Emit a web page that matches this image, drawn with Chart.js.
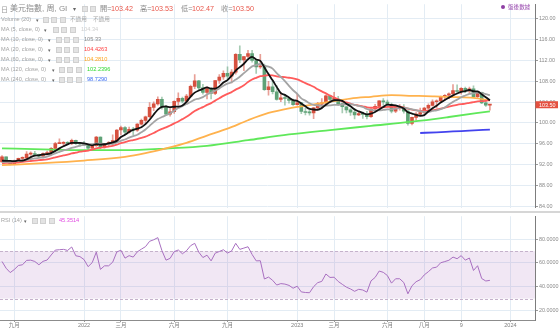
<!DOCTYPE html>
<html lang="zh-Hant">
<head>
<meta charset="utf-8">
<title>美元指數 周線</title>
<script src="https://cdn.jsdelivr.net/npm/chart.js@4.4.1/dist/chart.umd.min.js"></script>
<style>
  html, body { margin: 0; padding: 0; background: #fff; }
  #frame { position: relative; width: 560px; height: 328px; overflow: hidden;
           font-family: "Liberation Sans", Arial, "Noto Sans CJK TC", sans-serif; }
  canvas { position: absolute; left: 0; }
  #priceCanvas { top: 0; }
  #rsiCanvas { top: 212px; }
  #divider { position: absolute; left: 0; top: 211px; width: 560px; height: 1.5px; background: #d6d6d6; }
  .txt { position: absolute; white-space: nowrap; line-height: 1; transform: translateY(-50%); }
  .ico { position: absolute; width: 6px; height: 6px; background: #e3e3e3; border: 0.5px solid #d0d0d0;
         box-sizing: border-box; transform: translateY(-50%); }
  .dot { position: absolute; width: 4px; height: 4px; border-radius: 50%; background: #8e3fa3; }
</style>
</head>
<body>
<div id="frame">
  <canvas id="priceCanvas" width="560" height="212"></canvas>
  <canvas id="rsiCanvas" width="560" height="116"></canvas>
  <div id="divider"></div>
  <div id="overlay"></div>
</div>
<script>
// US Dollar Index, weekly bars; bar 0 is the week of 2021-08-16
const OPEN = [92.52,93.50,92.69,92.13,92.58,93.20,93.32,94.04,94.08,93.96,
  93.64,94.12,94.32,95.12,96.03,96.08,96.15,96.08,96.68,96.03,
  95.97,95.74,95.17,95.64,97.28,95.47,96.04,96.04,96.62,98.66,
  99.13,98.23,98.79,98.63,99.79,100.50,101.19,103.00,103.66,104.56,
  103.05,101.67,102.15,104.15,104.71,104.18,105.14,107.01,108.07,106.73,
  105.85,106.61,105.65,108.16,108.82,109.54,109.00,109.76,113.19,112.12,
  112.75,113.31,111.98,110.75,110.81,106.41,106.93,106.00,104.51,104.82,
  104.70,104.31,103.52,103.89,102.20,102.01,101.93,102.92,103.63,103.86,
  105.21,104.52,104.58,103.72,103.12,102.51,102.09,101.55,101.82,101.66,
  101.22,102.68,103.20,104.23,104.03,103.55,102.26,102.90,102.91,102.27,
  99.91,101.07,101.70,102.02,102.84,103.39,104.08,104.24,105.07,105.32,
  105.58,106.22,106.04,106.65,106.16,106.56,105.06,105.87,103.87,103.42];
const HIGH = [93.73,93.52,92.76,92.88,93.27,93.53,94.50,94.45,94.56,94.05,
  94.30,94.63,95.27,96.27,96.94,96.42,96.45,96.91,96.74,96.31,
  96.46,95.89,95.83,97.44,97.35,96.09,96.43,97.74,98.76,99.42,
  99.29,99.20,99.15,99.90,100.76,101.34,103.93,104.07,105.01,104.99,
  103.38,102.73,104.25,105.79,104.96,105.48,107.27,109.29,108.20,107.43,
  106.93,106.79,108.19,109.27,110.02,110.79,110.26,113.33,114.78,112.75,
  113.92,113.95,112.26,113.15,111.30,107.97,107.99,107.19,105.90,105.24,
  104.86,104.60,105.63,103.95,102.90,102.41,103.00,103.96,104.67,105.36,
  105.36,105.88,105.11,103.89,103.13,102.76,102.80,102.17,102.07,102.22,
  102.75,103.58,104.31,104.70,104.40,103.80,103.02,103.55,103.53,102.38,
  101.12,102.02,102.84,103.02,103.68,104.44,104.44,105.16,105.43,105.78,
  107.35,107.34,106.79,106.89,106.89,107.11,106.00,105.92,104.21,103.53];
const LOW = [92.48,92.59,91.94,92.00,92.33,92.88,93.18,93.80,93.86,93.50,
  93.28,93.87,93.87,95.06,96.02,95.52,95.86,95.86,95.87,95.53,
  95.68,94.63,95.02,95.52,95.14,95.19,95.52,95.64,96.36,97.72,
  97.71,98.03,97.69,98.39,99.59,99.82,101.03,102.35,103.41,102.65,
  101.43,101.30,101.82,103.41,103.86,103.85,104.93,106.60,106.29,105.54,
  104.64,104.64,105.41,107.58,108.36,108.36,107.68,109.36,111.58,110.05,
  112.53,111.68,109.53,110.46,106.27,105.34,105.60,104.39,104.10,103.44,
  103.80,103.39,103.41,101.77,101.53,101.50,100.82,102.64,102.78,103.66,
  104.09,104.32,103.35,101.92,101.92,101.43,100.79,101.42,100.89,100.79,
  101.06,102.43,103.15,103.40,103.28,101.92,101.98,102.48,101.88,99.58,
  99.62,100.55,101.46,101.74,102.56,103.23,102.94,104.01,104.42,104.69,
  105.51,105.85,105.53,105.80,105.70,104.84,104.86,103.71,103.17,102.47];
const CLOSE = [93.50,92.69,92.13,92.58,93.20,93.32,94.04,94.08,93.96,93.64,
  94.12,94.32,95.12,96.03,96.08,96.15,96.08,96.68,96.03,95.97,
  95.74,95.17,95.64,97.28,95.47,96.04,96.04,96.62,98.66,99.13,
  98.23,98.79,98.63,99.79,100.50,101.19,103.00,103.66,104.56,103.05,
  101.67,102.15,104.15,104.71,104.18,105.14,107.01,108.07,106.73,105.85,
  106.61,105.65,108.16,108.82,109.54,109.00,109.76,113.19,112.12,112.75,
  113.31,111.98,110.75,110.81,106.41,106.93,106.00,104.51,104.82,104.70,
  104.31,103.52,103.89,102.20,102.01,101.93,102.92,103.63,103.86,105.21,
  104.52,104.58,103.72,103.12,102.51,102.09,101.55,101.82,101.66,101.22,
  102.68,103.20,104.23,104.03,103.55,102.26,102.90,102.91,102.27,99.91,
  101.07,101.70,102.02,102.84,103.39,104.08,104.24,105.07,105.32,105.58,
  106.22,106.04,106.65,106.16,106.56,105.06,105.87,103.87,103.40,103.50];

// Moving averages of the close, one value per bar
const MA5 = [92.78,92.73,92.72,92.68,92.82,92.78,93.05,93.44,93.72,93.81,
  93.97,94.02,94.23,94.65,95.13,95.54,95.89,96.20,96.20,96.18,
  96.10,95.92,95.71,95.96,95.86,95.92,96.09,96.29,96.57,97.30,
  97.74,98.29,98.69,98.91,99.19,99.78,100.62,101.63,102.58,103.09,
  103.19,103.02,103.12,103.15,103.37,104.07,105.04,105.82,106.23,106.56,
  106.85,106.58,106.60,107.02,107.76,108.23,109.06,110.06,110.72,111.36,
  112.23,112.67,112.18,111.92,110.65,109.38,108.18,106.93,105.73,105.39,
  104.87,104.37,104.25,103.72,103.19,102.71,102.59,102.54,102.87,103.51,
  104.03,104.36,104.38,104.23,103.69,103.20,102.60,102.22,101.93,101.67,
  101.79,102.12,102.60,103.07,103.54,103.45,103.39,103.13,102.78,102.05,
  101.81,101.57,101.39,101.51,102.20,102.81,103.31,103.92,104.42,104.86,
  105.29,105.65,105.96,106.13,106.33,106.09,106.06,105.50,104.95,104.34];
const MA10 = [92.50,92.55,92.57,92.61,92.72,92.78,92.89,93.08,93.20,93.31,
  93.38,93.54,93.84,94.18,94.47,94.75,94.96,95.22,95.43,95.66,
  95.82,95.91,95.96,96.08,96.02,96.01,96.01,96.00,96.26,96.58,
  96.83,97.19,97.49,97.74,98.24,98.76,99.45,100.16,100.75,101.14,
  101.48,101.82,102.37,102.86,103.23,103.63,104.03,104.47,104.69,104.97,
  105.46,105.81,106.21,106.62,107.16,107.54,107.82,108.33,108.87,109.56,
  110.23,110.86,111.12,111.32,111.01,110.80,110.43,109.56,108.83,108.02,
  107.12,106.28,105.59,104.73,104.29,103.79,103.48,103.39,103.30,103.35,
  103.37,103.48,103.46,103.55,103.60,103.62,103.48,103.30,103.08,102.68,
  102.50,102.36,102.41,102.50,102.60,102.62,102.76,102.86,102.93,102.79,
  102.63,102.48,102.26,102.14,102.13,102.31,102.44,102.66,102.96,103.53,
  104.05,104.48,104.94,105.28,105.59,105.69,105.85,105.73,105.54,105.33];
const MA20 = [92.30,92.34,92.37,92.41,92.47,92.54,92.62,92.71,92.80,92.88,
  92.94,93.04,93.21,93.40,93.59,93.77,93.93,94.15,94.31,94.49,
  94.60,94.72,94.90,95.13,95.25,95.38,95.48,95.61,95.84,96.12,
  96.32,96.55,96.72,96.91,97.13,97.38,97.73,98.08,98.51,98.86,
  99.16,99.51,99.93,100.30,100.74,101.19,101.74,102.31,102.72,103.05,
  103.47,103.82,104.29,104.74,105.20,105.59,105.92,106.40,106.78,107.26,
  107.85,108.34,108.67,108.97,109.08,109.17,109.12,108.94,108.85,108.79,
  108.68,108.57,108.36,108.03,107.65,107.30,106.95,106.48,106.06,105.69,
  105.25,104.88,104.52,104.14,103.94,103.70,103.48,103.35,103.19,103.01,
  102.93,102.92,102.93,103.02,103.10,103.12,103.12,103.08,103.00,102.74,
  102.56,102.42,102.34,102.32,102.37,102.46,102.60,102.76,102.94,103.16,
  103.34,103.48,103.60,103.71,103.86,104.00,104.15,104.20,104.25,104.4263];

// Slow averages, sampled at the listed bars
const MA60_BARS = [0, 10, 20, 30, 35, 40, 45, 50, 55, 60, 65, 70, 75, 80, 85, 90, 95, 100, 105, 110, 115, 119];
const MA60 = [91.90, 92.30, 92.80, 93.50, 94.20, 95.12, 96.19, 97.58, 98.91, 100.53, 101.92, 102.82,
  103.42, 104.08, 104.69, 105.03, 105.33, 105.22, 105.11, 104.98, 104.80, 104.2810];
const MA120_BARS = [0, 10, 20, 30, 40, 50, 60, 70, 80, 90, 100, 109, 119];
const MA120 = [95.15, 94.95, 94.80, 94.80, 95.10, 95.60, 96.70, 97.80, 98.65, 99.45, 100.25, 101.15, 102.2396];
const MA240_BARS = [102, 106, 110, 114, 119];
const MA240 = [98.08, 98.22, 98.38, 98.53, 98.7290];

// RSI (14), one value per bar
const RSI = [61.3,55.6,51.9,54.5,57.9,58.5,62.2,62.4,61.3,58.5,
  61.4,62.5,66.8,70.9,71.2,71.5,70.6,73.5,66.1,65.4,
  62.9,56.9,60.3,69.2,54.6,57.6,57.6,60.7,69.3,70.8,
  64.1,66.2,65.0,69.4,71.7,73.8,78.3,79.6,81.4,70.5,
  62.4,63.9,69.6,71.0,67.8,70.4,74.6,76.6,69.1,64.6,
  66.6,61.8,68.3,69.7,71.2,68.4,70.2,76.6,71.5,72.6,
  73.7,67.2,61.8,61.9,46.5,48.1,45.4,41.4,42.6,42.2,
  41.1,38.7,40.4,35.6,35.1,34.9,40.0,43.4,44.5,50.7,
  47.8,48.0,44.4,42.0,39.6,38.1,36.1,37.8,37.2,35.4,
  44.9,47.8,53.2,52.1,49.4,43.0,46.7,46.7,43.5,34.0,
  40.8,44.2,45.9,50.0,52.7,55.8,56.5,60.2,61.2,62.3,
  65.0,63.6,66.2,62.4,64.2,53.7,57.7,46.9,44.8,45.3514];
const RSI_UPPER = 70, RSI_LOWER = 30;

// Axis ticks
const X_TICK_BARS = [3, 20, 29, 42, 55, 72, 81, 94, 103, 112, 124];
const X_TICK_LABELS = ['九月', '2022', '三月', '六月', '九月', '2023', '三月', '六月', '八月', '9', '2024'];
const PRICE_TICKS = [84, 88, 92, 96, 100, 104, 108, 112, 116, 120];
const RSI_TICKS = [20, 40, 60, 80];

// ---- layout / style ----
const FONT = '"Liberation Sans", Arial, "Noto Sans CJK TC", sans-serif';
Chart.defaults.font.family = FONT;
const X_MIN = -0.49, X_MAX = 130.0;
const PRICE_MIN = 83.74, PRICE_MAX = 122.78;
const RSI_MIN = 11.89, RSI_MAX = 99.46;
const AXIS_W = 25;
const GRID = '#e3ecf4';
const UP = '#d6503f', DOWN = '#5fa277';

const fixedTicks = values => scale => { scale.ticks = values.map(v => ({ value: v })); };
const last = arr => arr[arr.length - 1];

function timeAxis(showLabels) {
  return {
    type: 'linear', min: X_MIN, max: X_MAX, bounds: 'data', offset: false,
    afterBuildTicks: fixedTicks(X_TICK_BARS),
    afterFit: s => { s.height = showLabels ? 8 : 0; },
    grid: { color: GRID, drawTicks: showLabels, tickLength: 2, tickColor: '#9a9a9a', offset: false },
    border: { display: showLabels, color: '#8c8c8c' },
    ticks: { display: showLabels, autoSkip: false, maxRotation: 0, padding: 0, color: '#7e7e7e',
             font: { size: 5.5 }, callback: (v, i) => X_TICK_LABELS[i] }
  };
}
function valueAxis(min, max, ticks, digits) {
  return {
    position: 'right', min, max, bounds: 'data',
    afterBuildTicks: fixedTicks(ticks),
    afterFit: s => { s.width = AXIS_W; },
    grid: { color: GRID, tickLength: 3, tickColor: '#9a9a9a' },
    border: { color: '#7d7d7d', width: 1 },
    ticks: { color: '#8a8a8a', font: { size: 5.4 }, padding: 1, callback: v => v.toFixed(digits) }
  };
}
function maLine(label, bars, values, color, order) {
  return {
    type: 'line', label, order,
    data: values.map((y, i) => ({ x: bars ? bars[i] : i, y })),
    borderColor: color, borderWidth: 1.8, pointRadius: 0, fill: false,
    cubicInterpolationMode: 'monotone'
  };
}

const isUp = CLOSE.map((c, i) => c >= OPEN[i]);
const lastPriceTag = {
  id: 'lastPriceTag',
  afterDraw(chart) {
    const { ctx, chartArea, scales } = chart;
    const v = last(CLOSE);
    const py = scales.y.getPixelForValue(v);
    ctx.save();
    ctx.fillStyle = '#e4503f';
    ctx.fillRect(chartArea.right + 0.5, py - 3.5, 22.5, 7);
    ctx.fillStyle = '#ffffff';
    ctx.font = '5.4px ' + FONT;
    ctx.textAlign = 'left';
    ctx.textBaseline = 'middle';
    ctx.fillText(v.toFixed(2), chartArea.right + 4, py + 0.3);
    ctx.restore();
  }
};

new Chart(document.getElementById('priceCanvas'), {
  type: 'bar',
  data: {
    datasets: [
      { type: 'bar', label: '影線', order: 10, grouped: false, barThickness: 1,
        data: HIGH.map((h, i) => ({ x: i, y: [LOW[i], h] })),
        backgroundColor: isUp.map(u => u ? 'rgba(214,80,63,0.55)' : 'rgba(95,162,119,0.55)') },
      { type: 'bar', label: 'K線', order: 9, grouped: false, barThickness: 3, minBarLength: 1,
        data: OPEN.map((o, i) => ({ x: i, y: [o, CLOSE[i]] })),
        backgroundColor: isUp.map(u => u ? UP : DOWN) },
      maLine('MA 240', MA240_BARS, MA240, '#4343ee', 6),
      maLine('MA 120', MA120_BARS, MA120, '#5fe85a', 5),
      maLine('MA 60', MA60_BARS, MA60, '#ffb24d', 4),
      maLine('MA 20', null, MA20, '#ff5b5b', 3),
      maLine('MA 10', null, MA10, '#a4a4a4', 2),
      maLine('MA 5', null, MA5, '#121212', 1)
    ]
  },
  options: {
    responsive: false, animation: false, devicePixelRatio: 1,
    layout: { padding: 0 },
    plugins: { legend: { display: false }, tooltip: { enabled: false } },
    scales: { x: timeAxis(false), y: valueAxis(PRICE_MIN, PRICE_MAX, PRICE_TICKS, 2) }
  },
  plugins: [lastPriceTag]
});

const rsiBand = {
  id: 'rsiBand',
  beforeDatasetsDraw(chart) {
    const { ctx, chartArea: a, scales } = chart;
    const top = scales.y.getPixelForValue(RSI_UPPER);
    const bot = scales.y.getPixelForValue(RSI_LOWER);
    ctx.save();
    ctx.fillStyle = 'rgba(170,110,190,0.17)';
    ctx.fillRect(a.left, top, a.right - a.left, bot - top);
    ctx.strokeStyle = '#c5b2cb';
    ctx.lineWidth = 1;
    ctx.setLineDash([3, 2]);
    [top, bot].forEach(p => {
      ctx.beginPath();
      ctx.moveTo(a.left, Math.round(p) + 0.5);
      ctx.lineTo(a.right, Math.round(p) + 0.5);
      ctx.stroke();
    });
    ctx.restore();
  }
};

new Chart(document.getElementById('rsiCanvas'), {
  type: 'line',
  data: {
    datasets: [{ label: 'RSI (14)', data: RSI.map((v, i) => ({ x: i, y: v })),
      borderColor: '#a86fc0', borderWidth: 1, pointRadius: 0, tension: 0, fill: false }]
  },
  options: {
    responsive: false, animation: false, devicePixelRatio: 1,
    layout: { padding: 0 },
    plugins: { legend: { display: false }, tooltip: { enabled: false } },
    scales: { x: timeAxis(true), y: valueAxis(RSI_MIN, RSI_MAX, RSI_TICKS, 4) }
  },
  plugins: [rsiBand]
});

// ---- study legend text ----
const overlay = document.getElementById('overlay');
function put(x, y, text, color, size) {
  const s = document.createElement('span');
  s.className = 'txt';
  s.textContent = text;
  s.style.left = x + 'px';
  s.style.top = y + 'px';
  s.style.color = color;
  s.style.fontSize = size + 'px';
  overlay.appendChild(s);
}
function icons(x, y, n) {
  for (let k = 0; k < n; k++) {
    const d = document.createElement('div');
    d.className = 'ico';
    d.style.left = (x + k * 8.3) + 'px';
    d.style.top = y + 'px';
    overlay.appendChild(d);
  }
}

const n = CLOSE.length - 1;
put(1, 9, '日', '#9a9a9a', 7);
put(10, 9, '美元指數, 周, GI', '#8c8c8c', 8);
put(73, 9, '▾', '#666', 6);
icons(82, 9, 2);
const ohlc = [['開=', OPEN[n], 100], ['高=', HIGH[n], 140], ['低=', LOW[n], 181], ['收=', CLOSE[n], 221]];
ohlc.forEach(([k, v, x]) => {
  put(x, 9, k, '#8c8c8c', 7.2);
  put(x + 11, 9, v.toFixed(2), '#e8564a', 7.2);
});

const SMALL = 5.6;
put(1, 19.5, 'Volume (20)', '#a3a3a3', SMALL);
put(36, 19.5, '▾', '#666', 5);
icons(43, 19.5, 3);
put(70, 19.5, '不適用', '#a8a8a8', SMALL);
put(93, 19.5, '不適用', '#a8a8a8', SMALL);

const studies = [
  { y: 29.5, name: 'MA (5, close, 0)', caret: 44, ico: 53, vx: 81, value: last(MA5).toFixed(2), color: '#cdcdcd' },
  { y: 39.7, name: 'MA (10, close, 0)', caret: 48, ico: 56, vx: 84, value: last(MA10).toFixed(2), color: '#888888' },
  { y: 49.7, name: 'MA (20, close, 0)', caret: 48, ico: 56, vx: 84, value: last(MA20).toFixed(4), color: '#ff4141' },
  { y: 59.8, name: 'MA (60, close, 0)', caret: 48, ico: 56, vx: 84, value: last(MA60).toFixed(4), color: '#ffa41c' },
  { y: 70.0, name: 'MA (120, close, 0)', caret: 52, ico: 59, vx: 87, value: last(MA120).toFixed(4), color: '#2fd82f' },
  { y: 80.2, name: 'MA (240, close, 0)', caret: 52, ico: 59, vx: 87, value: last(MA240).toFixed(4), color: '#3b6cf2' }
];
studies.forEach(s => {
  put(1, s.y, s.name, '#a3a3a3', SMALL);
  put(s.caret, s.y, '▾', '#666', 5);
  icons(s.ico, s.y, 3);
  put(s.vx, s.y, s.value, s.color, SMALL);
});

put(1, 221, 'RSI (14)', '#a3a3a3', SMALL);
put(24, 221, '▾', '#666', 5);
icons(32, 221, 3);
put(59, 221, last(RSI).toFixed(4), '#e04be0', SMALL);

const dot = document.createElement('div');
dot.className = 'dot';
dot.style.left = '501px';
dot.style.top = '5.3px';
overlay.appendChild(dot);
put(508, 7.5, '盤後數據', '#9b4db0', 5.6);
</script>
</body>
</html>
